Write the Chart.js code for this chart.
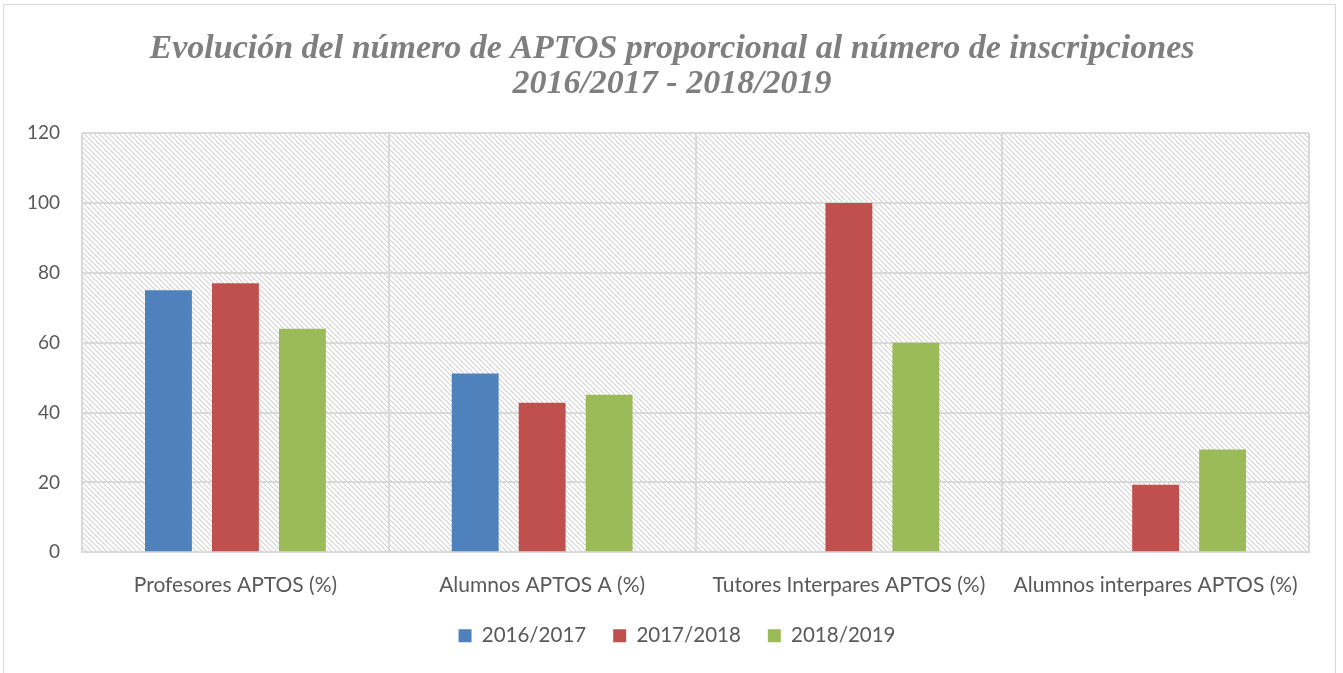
<!DOCTYPE html>
<html>
<head>
<meta charset="utf-8">
<script src="https://cdn.jsdelivr.net/npm/chart.js@4"></script>
<style>
  html, body { margin: 0; padding: 0; background: #ffffff; }
  #wrap { width: 1343px; height: 673px; position: relative; }
</style>
</head>
<body>
<div id="wrap"><canvas id="c" width="1343" height="673"></canvas></div>
<script>
const titleLines = ['Evolución del número de APTOS proporcional al número de inscripciones', '2016/2017 - 2018/2019'];
const categories = ['Profesores APTOS (%)', 'Alumnos APTOS A (%)', 'Tutores Interpares APTOS (%)', 'Alumnos interpares APTOS (%)'];
const seriesNames = ['2016/2017', '2017/2018', '2018/2019'];
const values2016 = [75, 51.2, null, null];
const values2017 = [77, 42.8, 100, 19.3];
const values2018 = [64, 45.1, 60, 29.4];
const yTicks = [0, 20, 40, 60, 80, 100, 120];
const colors = ['#4f81bd', '#c0504d', '#9bbb59'];

function makeHatch(ctx) {
  const n = 5;
  const pc = document.createElement('canvas');
  pc.width = n; pc.height = n;
  const p = pc.getContext('2d');
  p.fillStyle = '#ffffff';
  p.fillRect(0, 0, n, n);
  for (let i = 0; i < n; i++) {
    p.fillStyle = '#d4d4d4';
    p.fillRect(i, i, 1, 1);
    p.fillStyle = '#ebebeb';
    p.fillRect((i + 1) % n, i, 1, 1);
  }
  return ctx.createPattern(pc, 'repeat');
}

const bgPlugin = {
  id: 'bgPlugin',
  afterLayout(chart) {
    if (chart.titleBlock) chart.titleBlock.left += 30;
    if (chart.legend) chart.legend.left += 40;
  },
  beforeDraw(chart) {
    const ctx = chart.ctx;
    const a = chart.chartArea;
    ctx.save();
    ctx.fillStyle = '#ffffff';
    ctx.fillRect(0, 0, chart.width, chart.height);
    ctx.strokeStyle = '#d9d9d9';
    ctx.lineWidth = 1;
    ctx.strokeRect(3.5, 4.5, 1332, 700);
    ctx.fillStyle = makeHatch(ctx);
    ctx.fillRect(a.left, a.top, a.right - a.left, a.bottom - a.top);
    ctx.restore();
  }
};

const ctx = document.getElementById('c').getContext('2d');
new Chart(ctx, {
  type: 'bar',
  data: {
    labels: categories,
    datasets: [
      { label: seriesNames[0], data: values2016, backgroundColor: colors[0] },
      { label: seriesNames[1], data: values2017, backgroundColor: colors[1] },
      { label: seriesNames[2], data: values2018, backgroundColor: colors[2] }
    ]
  },
  options: {
    responsive: false,
    animation: false,
    devicePixelRatio: 1,
    layout: { padding: { left: 5, right: 34, top: 4, bottom: 17 } },
    datasets: { bar: { categoryPercentage: 0.655, barPercentage: 0.70 } },
    plugins: {
      title: {
        display: true,
        text: titleLines,
        color: '#7f7f7f',
        font: { family: '"Liberation Serif", serif', size: 34, style: 'italic', weight: 'bold', lineHeight: 1.03 },
        padding: { top: 28, bottom: 31 }
      },
      legend: {
        position: 'bottom',
        labels: {
          color: '#595959',
          font: { family: 'Lato, "Liberation Sans", sans-serif', size: 20.5 },
          boxWidth: 13,
          boxHeight: 13,
          padding: 27
        }
      },
      tooltip: { enabled: false }
    },
    scales: {
      x: {
        grid: { display: true, offset: true, color: '#d9d9d9', lineWidth: 2, drawTicks: false },
        border: { display: true, color: '#d9d9d9', width: 2 },
        ticks: { color: '#595959', font: { family: 'Lato, "Liberation Sans", sans-serif', size: 21 }, padding: 20, maxRotation: 0, autoSkip: false },
        afterFit(scale) { scale.height -= 19; }
      },
      y: {
        min: 0,
        max: 120,
        afterBuildTicks(axis) { axis.ticks = yTicks.map(v => ({ value: v })); },
        grid: { color: '#d9d9d9', lineWidth: 2, drawTicks: false },
        border: { display: false },
        ticks: { color: '#595959', font: { family: 'Lato, "Liberation Sans", sans-serif', size: 19 }, padding: 22 }
      }
    }
  },
  plugins: [bgPlugin]
});
</script>
</body>
</html>
